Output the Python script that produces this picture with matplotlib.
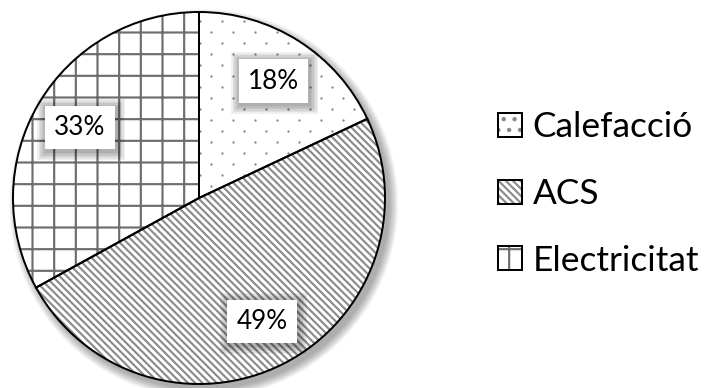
import matplotlib
matplotlib.use('Agg')
import matplotlib.pyplot as plt
from matplotlib.patches import Circle, Patch, Rectangle
import numpy as np

categories = ['Calefacció', 'ACS', 'Electricitat']
shares = [18, 49, 33]
hatches = ['', '\\\\\\\\\\\\', '+']
legend_hatches = ['..', '\\\\\\\\\\\\', '+']
hatch_colors = ['#8a8a8a', '#8c8c8c', '#6e6e6e']

plt.rcParams['font.family'] = ['Lato', 'DejaVu Sans']
plt.rcParams['hatch.linewidth'] = 1.2

DPI = 130
fig = plt.figure(figsize=(719 / DPI, 388 / DPI), dpi=DPI)
# pie centre ~ (199, 198) px, radius ~186 px
cx, cy, r = 199, 198, 186
ax = fig.add_axes([(cx - r) / 719, (388 - cy - r) / 388, 2 * r / 719, 2 * r / 388])

# soft drop shadow
for i in range(10):
    ax.add_patch(Circle((0.025, -0.03), 1.0 + i * 0.005, facecolor='black',
                        edgecolor='none', alpha=0.035, zorder=0, clip_on=False))

wedges, _ = ax.pie(shares, startangle=90, counterclock=False, radius=1,
                   wedgeprops=dict(facecolor='white', linewidth=0))
for w, h, c in zip(wedges, hatches, hatch_colors):
    w.set_hatch(h)
    w.set_edgecolor(c)
    w.set_zorder(1)

# sparse dotted texture for the first wedge (staggered dot lattice)
px = 1 / r
gx = np.arange(-1, 1, 22 * px)
rows = np.arange(-1, 1, 11 * px)
dx, dy = [], []
for i, yy in enumerate(rows):
    xs = gx + (11 * px if i % 2 else 0)
    dx.extend(xs)
    dy.extend([yy] * len(xs))
dots, = ax.plot(dx, dy, 'o', color=hatch_colors[0], markersize=1.3,
                markeredgewidth=0, zorder=1.5)
dots.set_clip_path(wedges[0])

outlines, _ = ax.pie(shares, startangle=90, counterclock=False, radius=1,
                     wedgeprops=dict(fill=False, edgecolor='black', linewidth=1.1))
for w in outlines:
    w.set_zorder(2)
    w.set_clip_on(False)

ax.set_xlim(-1, 1)
ax.set_ylim(-1, 1)
ax.set_aspect('equal')
ax.axis('off')

# percentage labels with white boxes and a soft shadow
pctdist = 0.745
labels = []
for w, s in zip(wedges, shares):
    ang = np.deg2rad((w.theta1 + w.theta2) / 2)
    x, y = pctdist * np.cos(ang), pctdist * np.sin(ang)
    t = ax.text(x, y, f'{s}%', fontsize=14.5, color='black', ha='center',
                va='center', zorder=4,
                bbox=dict(boxstyle='square,pad=0.35', facecolor='white', edgecolor='none'))
    labels.append(t)

fig.canvas.draw()
renderer = fig.canvas.get_renderer()
inv = ax.transData.inverted()
for t in labels:
    bb = t.get_bbox_patch().get_window_extent(renderer)
    (x0, y0), (x1, y1) = inv.transform([[bb.x0, bb.y0], [bb.x1, bb.y1]])
    for k in range(6):
        p = (k + 1) * 1.5 * px
        ax.add_patch(Rectangle((x0 - p + 1.5 * px, y0 - p - 2 * px),
                               (x1 - x0) + 2 * p, (y1 - y0) + 2 * p,
                               facecolor='black', edgecolor='none', alpha=0.06,
                               zorder=3))

handles = []
for h, c in zip(legend_hatches, hatch_colors):
    hp = Patch(facecolor='white', edgecolor=c, hatch=h, linewidth=0)
    op = Patch(fill=False, edgecolor='black', linewidth=1.1)
    handles.append((hp, op))

fig.legend(handles, categories, loc='center left', bbox_to_anchor=(498 / 719, 0.5),
           frameon=False, fontsize=19.5, handlelength=0.68, handleheight=0.68,
           handletextpad=0.3, labelspacing=0.98, borderpad=0, borderaxespad=0)

fig.savefig('out.png', dpi=DPI)
